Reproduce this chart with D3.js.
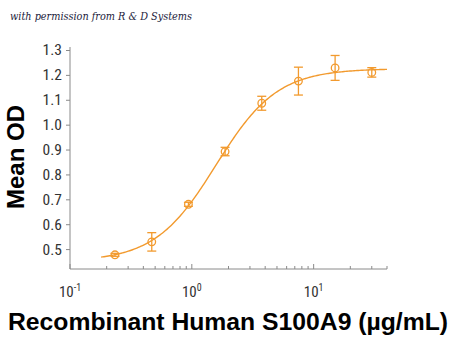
<!DOCTYPE html>
<html><head><meta charset="utf-8">
<script src="https://cdn.jsdelivr.net/npm/d3@7"></script>
<style>
html,body{margin:0;padding:0;background:#fff;}
svg{display:block;}
</style></head>
<body>
<svg id="chart" width="450" height="343"></svg>
<script>
// Data
const concentrations = [0.234, 0.469, 0.9375, 1.875, 3.75, 7.5, 15, 30];
const meanOD = [0.477, 0.529, 0.680, 0.892, 1.086, 1.175, 1.228, 1.210];
const errOD = [0.006, 0.037, 0.008, 0.017, 0.028, 0.056, 0.050, 0.019];
// 4-parameter logistic fit (bottom, top, EC50, hill)
const fitBottom = 0.45, fitTop = 1.225, fitEC50 = 1.58, fitHill = 1.73;
const fitRange = [0.18, 40];
const yTicks = [0.5, 0.6, 0.7, 0.8, 0.9, 1.0, 1.1, 1.2, 1.3];
const xMajorTicks = [0.1, 1, 10];
const xExponents = ["-1", "0", "1"];
const xMinorTicks = [0.2,0.3,0.4,0.5,0.6,0.7,0.8,0.9,2,3,4,5,6,7,8,9,20,30,40];

const orange = "#F29A2E";
const axisColor = "#8a8a8a";
const svg = d3.select("#chart");

const x = d3.scaleLog().domain([0.1, 40]).range([70, 387]);
const y = d3.scaleLinear().domain([0.42, 1.3]).range([269, 50]);

// watermark
svg.append("text").attr("x", 10).attr("y", 20)
  .attr("font-family", "'DejaVu Serif', serif").attr("font-style", "italic")
  .attr("font-size", 11).attr("fill", "#1c1c3c")
  .attr("textLength", 182).attr("lengthAdjust", "spacingAndGlyphs")
  .text("with permission from R & D Systems");

// y axis
const yAxis = d3.axisLeft(y).tickValues(yTicks).tickSize(4).tickPadding(4)
  .tickFormat(d3.format(".1f"));
const gy = svg.append("g").attr("transform", "translate(70,0)").call(yAxis);
gy.select(".domain").remove();
gy.append("line").attr("x1", 0).attr("x2", 0).attr("y1", 47).attr("y2", 269).attr("stroke", axisColor);
gy.selectAll(".tick line").attr("stroke", axisColor);
gy.selectAll(".tick text").attr("font-family", "'Liberation Sans Narrow', 'Roboto Condensed', sans-serif")
  .attr("font-size", 15.5).attr("fill", "#333");

// x axis (ticks inward)
const gx = svg.append("g").attr("transform", "translate(0,269)");
gx.append("line").attr("x1", 70).attr("x2", 387).attr("y1", 0).attr("y2", 0).attr("stroke", axisColor);
gx.selectAll(".minor").data(xMinorTicks).join("line").attr("class", "minor")
  .attr("x1", d => x(d)).attr("x2", d => x(d)).attr("y1", 0).attr("y2", -3).attr("stroke", axisColor);
gx.selectAll(".major").data(xMajorTicks).join("line").attr("class", "major")
  .attr("x1", d => x(d)).attr("x2", d => x(d)).attr("y1", 0).attr("y2", -5).attr("stroke", axisColor);
const lbl = gx.selectAll(".lbl").data(xMajorTicks).join("text").attr("class", "lbl")
  .attr("x", d => x(d)).attr("y", 28).attr("text-anchor", "middle")
  .attr("font-family", "'Liberation Sans Narrow', 'Roboto Condensed', sans-serif")
  .attr("font-size", 15).attr("fill", "#333");
lbl.append("tspan").text("10");
lbl.append("tspan").attr("dy", -6).attr("font-size", 10).text((d, i) => xExponents[i]);

// titles
svg.append("text").attr("transform", "translate(24,157) rotate(-90)")
  .attr("text-anchor", "middle").attr("font-family", "'Liberation Sans', Arial, sans-serif")
  .attr("font-weight", "bold").attr("font-size", 24).attr("fill", "#000").text("Mean OD");
svg.append("text").attr("x", 228).attr("y", 330).attr("text-anchor", "middle")
  .attr("font-family", "'Liberation Sans', Arial, sans-serif")
  .attr("font-weight", "bold").attr("font-size", 24).attr("fill", "#000")
  .attr("textLength", 440).attr("lengthAdjust", "spacingAndGlyphs")
  .text("Recombinant Human S100A9 (\u00b5g/mL)");

// fitted curve
const fit = c => fitBottom + (fitTop - fitBottom) / (1 + Math.pow(fitEC50 / c, fitHill));
const curveX = d3.range(0, 201).map(i => fitRange[0] * Math.pow(fitRange[1] / fitRange[0], i / 200));
svg.append("path").datum(curveX)
  .attr("d", d3.line().x(d => x(d)).y(d => y(fit(d))))
  .attr("fill", "none").attr("stroke", orange).attr("stroke-width", 1.4);

// error bars & points
const pts = concentrations.map((c, i) => ({c, v: meanOD[i], e: errOD[i]}));
const g = svg.append("g").attr("stroke", orange).attr("stroke-width", 1.3).attr("fill", "none");
pts.forEach(p => {
  const cx = x(p.c);
  g.append("line").attr("x1", cx).attr("x2", cx).attr("y1", y(p.v - p.e)).attr("y2", y(p.v + p.e));
  [p.v - p.e, p.v + p.e].forEach(v => g.append("line")
    .attr("x1", cx - 4.5).attr("x2", cx + 4.5).attr("y1", y(v)).attr("y2", y(v)));
  g.append("circle").attr("cx", cx).attr("cy", y(p.v)).attr("r", 3.8);
});
</script>
</body></html>
